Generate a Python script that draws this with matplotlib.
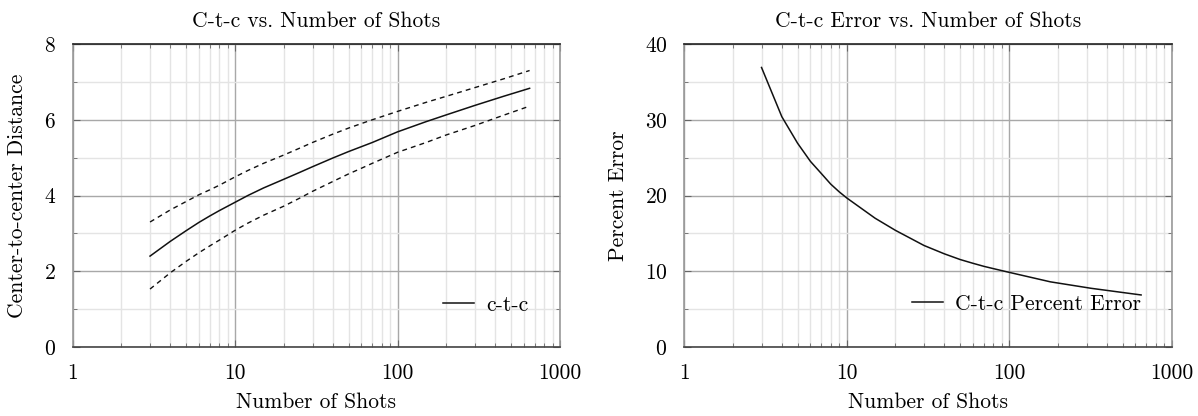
import matplotlib
matplotlib.use("Agg")
import matplotlib.pyplot as plt
from matplotlib.ticker import LogLocator, FixedLocator, NullFormatter

plt.rcParams['font.family'] = ['cmr10', 'DejaVu Serif']
plt.rcParams['axes.formatter.use_mathtext'] = True
plt.rcParams['mathtext.fontset'] = 'cm'

# data
shots = [3, 4, 5, 6, 7, 8, 10, 12, 15, 20, 25, 30, 40, 50, 60, 70, 100, 150, 200, 300, 450, 650]
ctc = [2.40, 2.79, 3.07, 3.29, 3.46, 3.60, 3.82, 4.00, 4.20, 4.43, 4.61, 4.76,
       4.99, 5.16, 5.29, 5.40, 5.68, 5.95, 6.13, 6.38, 6.62, 6.83]
ctc_upper = [3.30, 3.62, 3.84, 4.02, 4.15, 4.27, 4.49, 4.66, 4.85, 5.07, 5.25, 5.40,
             5.62, 5.78, 5.90, 6.00, 6.22, 6.46, 6.62, 6.85, 7.08, 7.30]
ctc_lower = [1.53, 1.96, 2.26, 2.49, 2.67, 2.82, 3.08, 3.27, 3.48, 3.72, 3.93, 4.11,
             4.37, 4.57, 4.72, 4.85, 5.14, 5.40, 5.60, 5.85, 6.12, 6.36]

err_shots = [3, 4, 5, 6, 7, 8, 9, 10, 15, 20, 25, 30, 40, 50, 60, 70, 80, 100, 180, 320, 650]
pct_err = [36.9, 30.4, 26.9, 24.5, 22.9, 21.5, 20.5, 19.7, 17.0, 15.4, 14.3, 13.4,
           12.3, 11.55, 11.05, 10.65, 10.35, 9.86, 8.60, 7.75, 6.87]

fig = plt.figure(figsize=(11.98, 4.16), dpi=100)
W, H = 1198, 416
ax1 = fig.add_axes([72.5 / W, 1 - 347 / H, 487.5 / W, 303 / H])
ax2 = fig.add_axes([684 / W, 1 - 347 / H, 487.5 / W, 303 / H])

FS = 15.5


def style_axes(ax, ymax, ystep):
    ax.set_xscale('log')
    ax.set_xlim(1, 1000)
    ax.set_ylim(0, ymax)
    ax.xaxis.set_major_locator(FixedLocator([1, 10, 100, 1000]))
    ax.xaxis.set_minor_locator(LogLocator(base=10, subs=range(2, 10)))
    ax.xaxis.set_minor_formatter(NullFormatter())
    ax.set_xticklabels(['1', '10', '100', '1000'])
    ax.yaxis.set_major_locator(FixedLocator(list(range(0, ymax + 1, ystep))))
    ax.yaxis.set_minor_locator(FixedLocator([v + ystep / 2 for v in range(0, ymax, ystep)]))
    ax.grid(which='major', color='#a8a8a8', linewidth=1.0)
    ax.grid(which='minor', color='#e4e4e4', linewidth=1.0)
    ax.set_axisbelow(True)
    ax.tick_params(which='both', direction='in', top=True, right=True,
                   color='#666666', labelsize=FS, pad=12)
    ax.tick_params(which='major', length=5)
    ax.tick_params(which='minor', length=3)
    ax.spines['top'].set_color('#222222')
    ax.spines['bottom'].set_color('#444444')
    ax.spines['left'].set_color('#999999')
    ax.spines['right'].set_color('#999999')
    for s in ax.spines.values():
        s.set_linewidth(1.2)
    ax.set_xlabel('Number of Shots', fontsize=FS, labelpad=7)


style_axes(ax1, 8, 2)
ax1.plot(shots, ctc, color='#111111', linewidth=1.1, label='c-t-c')
ax1.plot(shots, ctc_upper, color='#111111', linewidth=1.0, linestyle=(0, (3.5, 3)))
ax1.plot(shots, ctc_lower, color='#111111', linewidth=1.0, linestyle=(0, (3.5, 3)))
ax1.set_title('C-t-c vs. Number of Shots', fontsize=FS, pad=12)
ax1.set_ylabel('Center-to-center Distance', fontsize=FS, labelpad=12)
ax1.legend(loc='center right', bbox_to_anchor=(0.935, 0.139), frameon=False,
           fontsize=FS, handlelength=1.45, handletextpad=0.55,
           borderpad=0, borderaxespad=0)

style_axes(ax2, 40, 10)
ax2.plot(err_shots, pct_err, color='#111111', linewidth=1.1, label='C-t-c Percent Error')
ax2.set_title('C-t-c Error vs. Number of Shots', fontsize=FS, pad=12)
ax2.set_ylabel('Percent Error', fontsize=FS, labelpad=12)
ax2.legend(loc='center right', bbox_to_anchor=(0.937, 0.142), frameon=False,
           fontsize=FS, handlelength=1.45, handletextpad=0.55,
           borderpad=0, borderaxespad=0)

fig.savefig('out.png', dpi=100)
